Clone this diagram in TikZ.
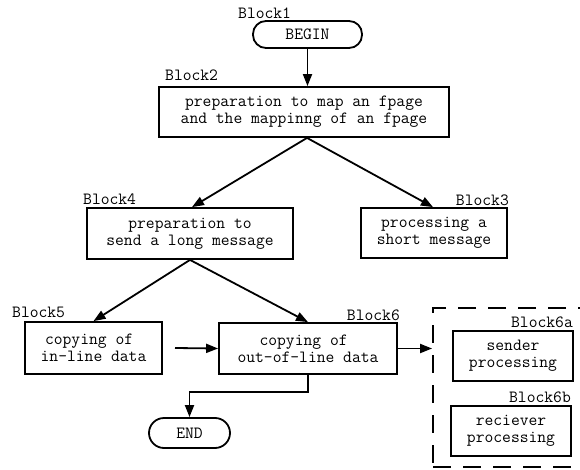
\documentclass[tikz,border=0pt]{standalone}
\usetikzlibrary{arrows.meta}
\begin{document}
\begin{tikzpicture}[x=1pt,y=-1pt,
  every node/.style={font=\ttfamily\fontsize{17.1}{17}\selectfont},
  box/.style={draw,line width=1.8pt,align=center,inner sep=0pt},
  term/.style={box,rounded corners=13pt},
  lbl/.style={inner sep=0pt},
  conn/.style={line width=1.8pt,-{Triangle[length=12pt,width=9pt]}},
  grpbox/.style={draw,line width=1.8pt,dash pattern=on 18pt off 12pt}]
\useasboundingbox (0,0) rectangle (580,470);
\clip (0,0) rectangle (580,470);
% nodes
\node[term,minimum width=109pt,minimum height=27pt] (b1) at (307.5,34.5) {BEGIN};
\node[box,minimum width=290pt,minimum height=50pt] (b2) at (304,112) {preparation to map an fpage\\and the mappinng of an fpage};
\node[box,minimum width=206pt,minimum height=51pt] (b4) at (190,233.5) {preparation to\\send a long message};
\node[box,minimum width=146pt,minimum height=50pt] (b3) at (434,233) {processing a\\short message};
\node[box,minimum width=137pt,minimum height=52pt] (b5) at (93.5,348) {copying of\hphantom{x}\\in-line data};
\node[box,minimum width=178pt,minimum height=51pt] (b6) at (308,348.5) {copying of\hphantom{x}\\out-of-line data};
\node[term,minimum width=81pt,minimum height=30pt,rounded corners=15pt] (end) at (189.5,433) {END};
\node[grpbox,minimum width=167pt,minimum height=159pt] (grp) at (516.5,387.5) {};
\node[box,minimum width=120pt,minimum height=50pt] (b6a) at (513,356) {sender\\processing};
\node[box,minimum width=120pt,minimum height=50pt] (b6b) at (511,431) {reciever\\processing};
% labels
\node[lbl,anchor=west] (l1) at (238,13.5) {Block1};
\node[lbl,anchor=west] (l2) at (165,75) {Block2};
\node[lbl,anchor=west] (l4) at (83,199) {Block4};
\node[lbl,anchor=east] (l3) at (509,200) {Block3};
\node[lbl,anchor=west] (l5) at (12,312) {Block5};
\node[lbl,anchor=east] (l6) at (400,315) {Block6};
\node[lbl,anchor=east] (l6a) at (573,322) {Block6a};
\node[lbl,anchor=east] (l6b) at (571,397.5) {Block6b};
% connectors
\coordinate (c56) at (175,348);
\coordinate (j) at (0,392);
\draw[conn] (b1.south) -- (b1.south |- b2.north);
\draw[conn] ([xshift=3pt]b2.south) -- ([xshift=2pt]b4.north);
\draw[conn] ([xshift=3pt]b2.south) -- ([xshift=-1pt]b3.north);
\draw[conn] (b4.south) -- (b5.north);
\draw[conn] (b4.south) -- (b6.north);
\draw[conn] (c56) -- (b6.west);
\draw[conn] (b6.east) -- (grp.west |- b6.east);
\draw[conn] (b6.south) -- (b6.south |- j) -| (end.north);
\end{tikzpicture}
\end{document}
